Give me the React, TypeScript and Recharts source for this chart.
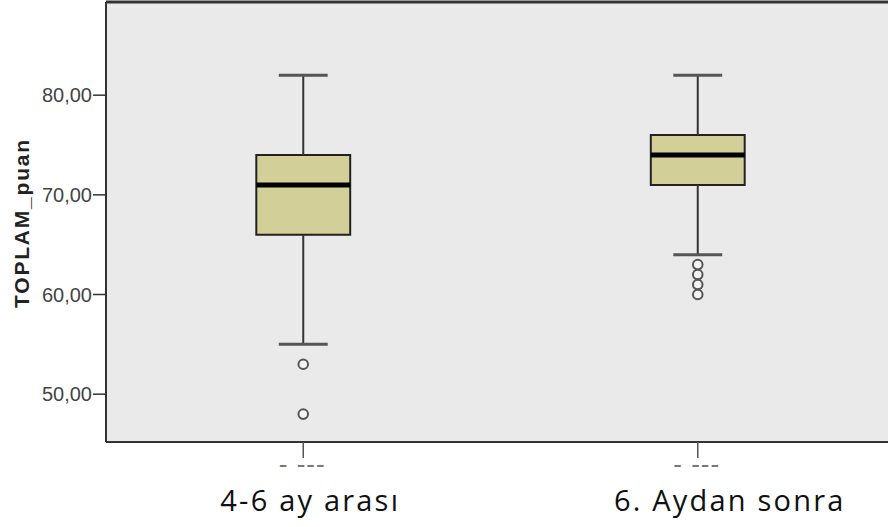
import React from "react";
import {
  ComposedChart,
  XAxis,
  YAxis,
  Scatter,
  ReferenceArea,
  ReferenceLine,
} from "recharts";

// group labels and their x slot
const categories = ["4-6 ay arası", "6. Aydan sonra"];
const positions = [1, 2];

// box plot stats per group
const whiskerLow = [55, 64];
const q1 = [66, 71];
const median = [71, 74];
const q3 = [74, 76];
const whiskerHigh = [82, 82];

// outliers per group
const outliersGroup1 = [53, 48];
const outliersGroup2 = [63, 62, 61, 60];

const yTicks = [50, 60, 70, 80];
const Y_MIN = 45.2;
const Y_MAX = 89.35;

const BOX_HALF = 0.119;
const CAP_HALF = 0.062;

const boxes = positions.map((x, i) => ({
  x,
  name: categories[i],
  low: whiskerLow[i],
  q1: q1[i],
  median: median[i],
  q3: q3[i],
  high: whiskerHigh[i],
}));

const outliers = [
  ...outliersGroup1.map((y) => ({ x: positions[0], y })),
  ...outliersGroup2.map((y) => ({ x: positions[1], y })),
];

const LABEL_NUDGE = [7, 32];

const CategoryTick = (props: any) => {
  const { x, y, payload, index } = props;
  const label = categories[positions.indexOf(payload.value)] ?? "";
  return (
    <g>
      <text
        x={x - 1}
        y={y + 15}
        textAnchor="middle"
        style={{ fill: "#777", fontSize: 26, fontFamily: "Liberation Sans, Arial, sans-serif", letterSpacing: 1 }}
      >
        - ---
      </text>
      <text
        x={x + (LABEL_NUDGE[index] ?? 0)}
        y={y + 53}
        textAnchor="middle"
        style={{ fill: "#111", fontSize: 29, fontFamily: "Open Sans, sans-serif", letterSpacing: 2.2 }}
      >
        {label}
      </text>
    </g>
  );
};

const OutlierDot = (props: any) => {
  const { cx, cy } = props;
  return <circle cx={cx} cy={cy} r={4.8} fill="#f4f4f4" stroke="#555" strokeWidth={2} />;
};

export default function App() {
  return (
    <div
      style={{
        position: "absolute",
        left: 0,
        top: 0,
        width: 888,
        height: 527,
        overflow: "hidden",
        background: "#fff",
      }}
    >
      <ComposedChart
        width={1000}
        height={527}
        data={boxes}
        margin={{ top: 2, right: 105, bottom: 0, left: 0 }}
      >
        <ReferenceArea
          x1={0.5}
          x2={2.5}
          y1={Y_MIN}
          y2={Y_MAX}
          fill="#eaeaea"
          fillOpacity={1}
          stroke="none"
          ifOverflow="visible"
        />
        <XAxis
          type="number"
          dataKey="x"
          domain={[0.5, 2.5]}
          ticks={positions}
          allowDataOverflow
          height={85}
          tickSize={16}
          tickMargin={0}
          axisLine={{ stroke: "#333", strokeWidth: 2 }}
          tickLine={{ stroke: "#555", strokeWidth: 1.5 }}
          tick={<CategoryTick />}
          interval={0}
        />
        <YAxis
          type="number"
          domain={[Y_MIN, Y_MAX]}
          ticks={yTicks}
          allowDataOverflow
          width={106}
          tickSize={13}
          tickMargin={1}
          axisLine={{ stroke: "#333", strokeWidth: 2 }}
          tickLine={{ stroke: "#333", strokeWidth: 1.5 }}
          tick={{ fill: "#444", fontSize: 20, fontFamily: "Liberation Sans, Arial, sans-serif" }}
          tickFormatter={(v: number) => v.toFixed(2).replace(".", ",")}
          label={{
            content: (p: any) => {
              const vb = p.viewBox || {};
              const cy = (vb.y ?? 0) + (vb.height ?? 0) / 2 + 1;
              return (
                <text
                  x={21}
                  y={cy}
                  transform={`rotate(-90, 21, ${cy})`}
                  textAnchor="middle"
                  dominantBaseline="central"
                  style={{
                    fontSize: 21,
                    fontWeight: "bold",
                    fill: "#222",
                    fontFamily: "Liberation Sans, Arial, sans-serif",
                    letterSpacing: 1.8,
                  }}
                >
                  TOPLAM_puan
                </text>
              );
            },
          }}
        />
        <ReferenceLine y={Y_MAX} stroke="#333" strokeWidth={3} ifOverflow="visible" />

        {boxes.map((b) => (
          <ReferenceLine
            key={`wu-${b.x}`}
            segment={[
              { x: b.x, y: b.q3 },
              { x: b.x, y: b.high },
            ]}
            stroke="#333"
            strokeWidth={2}
            ifOverflow="visible"
          />
        ))}
        {boxes.map((b) => (
          <ReferenceLine
            key={`wl-${b.x}`}
            segment={[
              { x: b.x, y: b.low },
              { x: b.x, y: b.q1 },
            ]}
            stroke="#333"
            strokeWidth={2}
            ifOverflow="visible"
          />
        ))}
        {boxes.map((b) => (
          <ReferenceLine
            key={`ch-${b.x}`}
            segment={[
              { x: b.x - CAP_HALF, y: b.high },
              { x: b.x + CAP_HALF, y: b.high },
            ]}
            stroke="#555"
            strokeWidth={3}
            ifOverflow="visible"
          />
        ))}
        {boxes.map((b) => (
          <ReferenceLine
            key={`cl-${b.x}`}
            segment={[
              { x: b.x - CAP_HALF, y: b.low },
              { x: b.x + CAP_HALF, y: b.low },
            ]}
            stroke="#555"
            strokeWidth={3}
            ifOverflow="visible"
          />
        ))}
        {boxes.map((b) => (
          <ReferenceArea
            key={`box-${b.x}`}
            x1={b.x - BOX_HALF}
            x2={b.x + BOX_HALF}
            y1={b.q1}
            y2={b.q3}
            fill="#d3cf99"
            fillOpacity={1}
            stroke="#222"
            strokeWidth={2}
            ifOverflow="visible"
          />
        ))}
        {boxes.map((b) => (
          <ReferenceLine
            key={`md-${b.x}`}
            segment={[
              { x: b.x - BOX_HALF, y: b.median },
              { x: b.x + BOX_HALF, y: b.median },
            ]}
            stroke="#000"
            strokeWidth={5}
            ifOverflow="visible"
          />
        ))}
        <Scatter
          data={outliers}
          dataKey="y"
          shape={<OutlierDot />}
          isAnimationActive={false}
        />
      </ComposedChart>
    </div>
  );
}
